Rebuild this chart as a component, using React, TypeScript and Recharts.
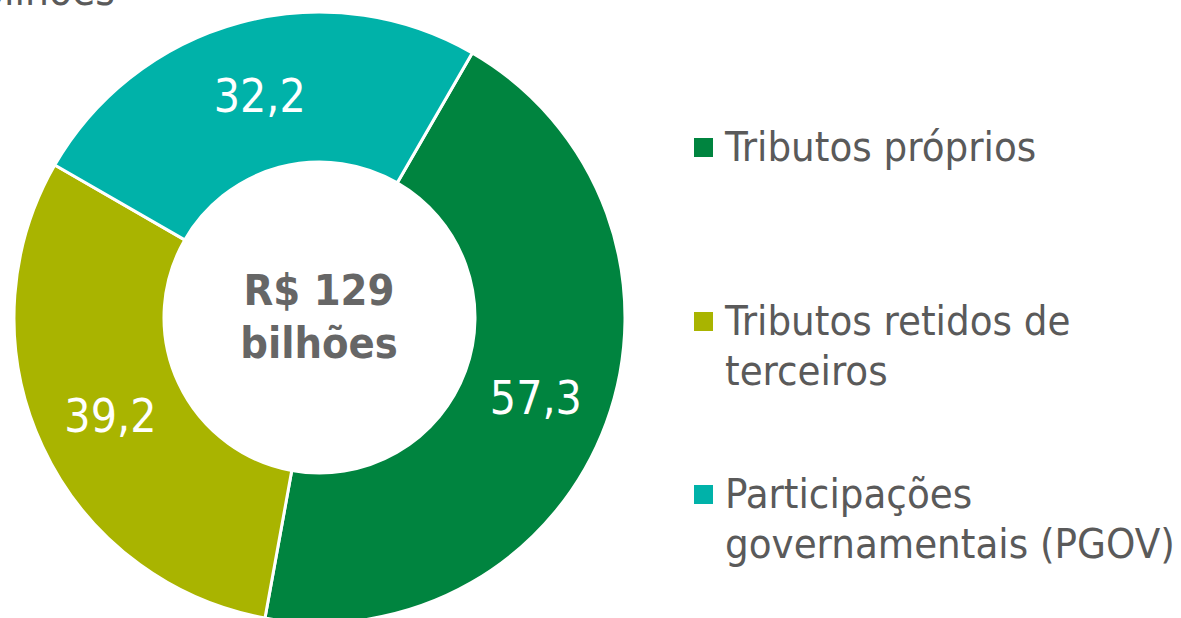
import { PieChart, Pie, Cell, Legend } from "recharts";

const categories = [
  "Tributos próprios",
  "Tributos retidos de terceiros",
  "Participações governamentais (PGOV)",
];
const values = [57.3, 39.2, 32.2];
const legendLines = [
  ["Tributos próprios"],
  ["Tributos retidos de", "terceiros"],
  ["Participações", "governamentais (PGOV)"],
];
const colors = ["#00843F", "#A9B400", "#00B2A9"];
const centerLines = ["R$ 129", "bilhões"];
const unitLabel = "R$ bilhões";

const data = categories.map((name, i) => ({ name, value: values[i] }));

const FONT = "'DejaVu Sans Condensed', 'DejaVu Sans', sans-serif";
const TEXT = "#5A5A5A";
const RADIAN = Math.PI / 180;

const fmt = (v: number) => v.toFixed(1).replace(".", ",");

function renderLabel(props: any) {
  const { cx, cy, midAngle, innerRadius, outerRadius, value } = props;
  const r = (innerRadius + outerRadius) / 2;
  const x = cx + r * Math.cos(-midAngle * RADIAN);
  const y = cy + r * Math.sin(-midAngle * RADIAN);
  return (
    <text
      x={x}
      y={y + 17}
      fill="#fff"
      textAnchor="middle"
      fontSize={46}
      fontFamily={FONT}
      style={{ fontStretch: "condensed" }}
    >
      {fmt(value)}
    </text>
  );
}

function LegendSvg(props: any) {
  const payload = props.payload || [];
  const tops = [161, 335, 508];
  // keep the legend in data order
  const items = categories.map((name, i) => {
    const entry = payload.find((p: any) => p.value === name);
    return { name, color: entry ? entry.color : colors[i] };
  });
  return (
    <svg width={1181} height={618} style={{ fontFamily: FONT, fontStretch: "condensed" }}>
      <text x={115} y={5} textAnchor="end" fontSize={42} fill={TEXT}>
        {unitLabel}
      </text>
      <text x={319} y={305} textAnchor="middle" fontSize={43} fontWeight="bold" fill="#666">
        {centerLines[0]}
      </text>
      <text x={319} y={358} textAnchor="middle" fontSize={43} fontWeight="bold" fill="#666">
        {centerLines[1]}
      </text>
      {items.map((item, i) => (
        <g key={item.name}>
          <rect x={694} y={tops[i] - 23} width={19} height={19} fill={item.color} />
          {legendLines[i].map((line, j) => (
            <text key={j} x={725} y={tops[i] + j * 50} fontSize={41.5} fill={TEXT}>
              {line}
            </text>
          ))}
        </g>
      ))}
    </svg>
  );
}

export default function App() {
  return (
    <div style={{ position: "absolute", left: 0, top: 0, width: 1181, height: 618, background: "#fff" }}>
      <PieChart width={1181} height={618} margin={{ top: 0, right: 0, bottom: 0, left: 0 }}>
        <Pie
          data={data}
          dataKey="value"
          nameKey="name"
          cx={319.5}
          cy={317.5}
          innerRadius={155.5}
          outerRadius={305.5}
          startAngle={60}
          endAngle={-300}
          stroke="#fff"
          strokeWidth={3}
          label={renderLabel}
          labelLine={false}
          isAnimationActive={false}
        >
          {data.map((d, i) => (
            <Cell key={d.name} fill={colors[i]} />
          ))}
        </Pie>
        <Legend
          content={<LegendSvg />}
          wrapperStyle={{ position: "absolute", left: 0, top: 0, width: 1181, height: 618, pointerEvents: "none" }}
        />
      </PieChart>
    </div>
  );
}
